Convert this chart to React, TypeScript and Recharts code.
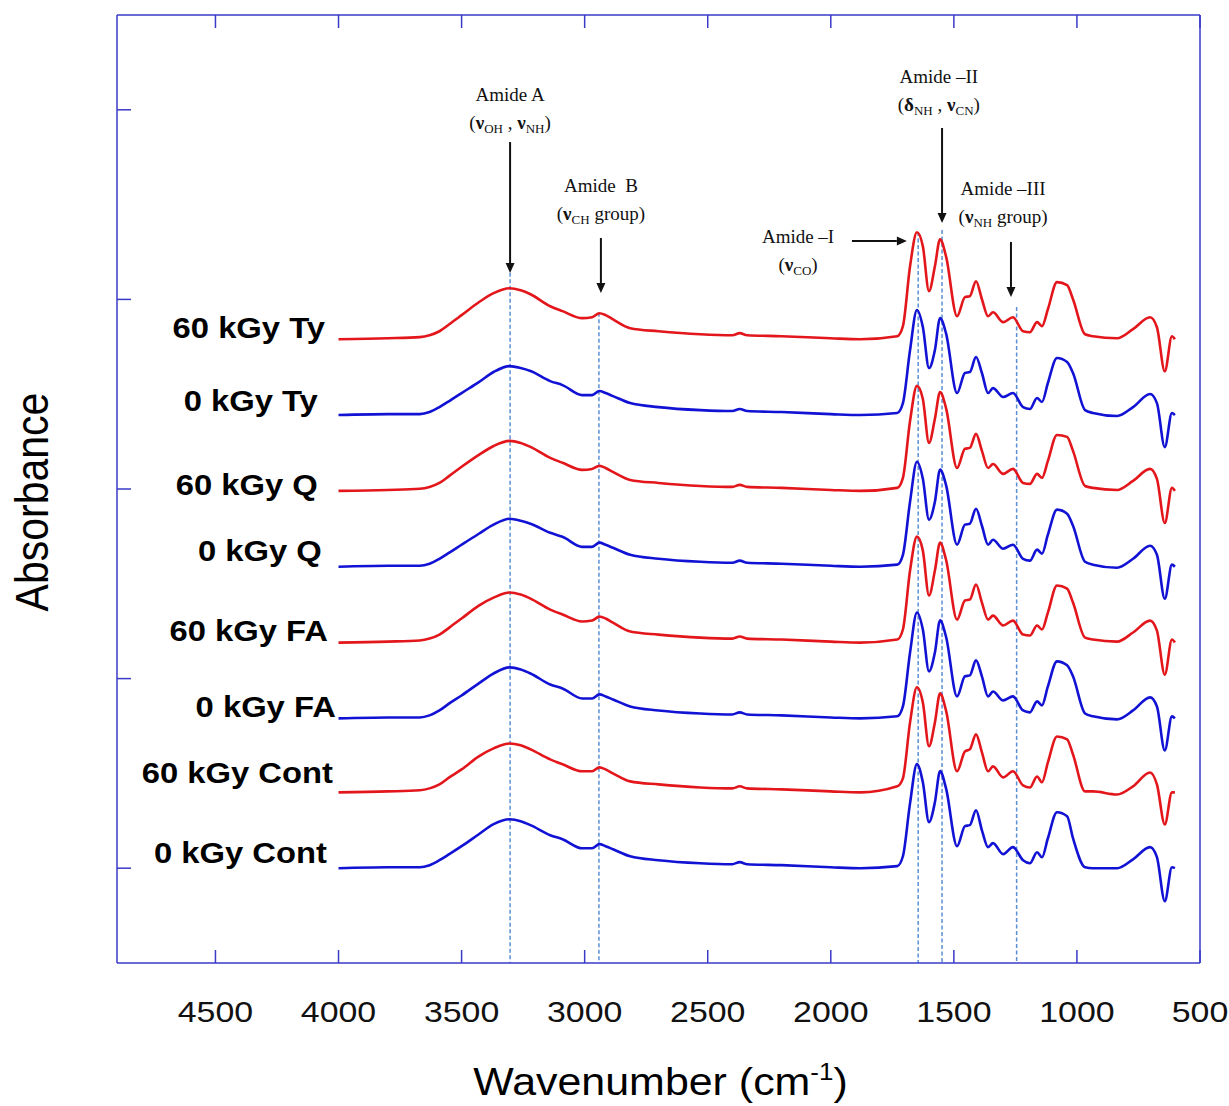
import React from 'react';
import { LineChart, Line, XAxis, YAxis, ReferenceLine, ReferenceDot } from 'recharts';

// Wavenumber grid (cm-1)
const wavenumbers = [4000, 3800, 3670, 3630, 3590, 3550, 3500, 3430, 3370, 3305, 3260, 3220, 3140, 3090, 3010, 2970, 2940, 2915, 2885, 2815, 2700, 2530, 2400, 2370, 2340, 2200, 2000, 1880, 1730, 1707, 1678, 1650, 1626, 1601, 1577, 1556, 1532, 1487, 1455, 1435, 1410, 1386, 1361, 1341, 1300, 1260, 1219, 1191, 1162, 1142, 1118, 1081, 1040, 1016, 967, 935, 837, 772, 703, 675, 643, 614, 602];

// Absorbance above each spectrum's own baseline
const abs60Ty = [0, .005, .011, .021, .042, .079, .127, .195, .243, .269, .258, .237, .174, .148, .111, .116, .137, .127, .105, .058, .042, .026, .021, .032, .021, .016, .005, 0, .016, .069, .385, .564, .490, .253, .385, .527, .438, .121, .222, .227, .306, .211, .121, .142, .090, .116, .042, .037, .090, .069, .158, .301, .285, .211, .026, .016, .005, .053, .116, .063, -.169, .016, 0];
const abs0Ty = [0, .005, .005, .016, .042, .074, .116, .174, .227, .258, .248, .232, .179, .158, .105, .105, .127, .116, .100, .063, .042, .026, .021, .032, .021, .016, .005, 0, .011, .063, .343, .554, .464, .248, .343, .512, .432, .116, .222, .227, .306, .222, .116, .142, .095, .116, .042, .032, .090, .069, .169, .301, .280, .222, .026, .011, -.005, .042, .111, .063, -.169, .011, 0];
const abs60Q = [0, .005, .011, .021, .042, .079, .127, .190, .237, .264, .253, .232, .174, .148, .111, .116, .132, .121, .100, .058, .042, .026, .021, .032, .021, .016, .005, 0, .016, .069, .369, .554, .485, .253, .380, .522, .438, .121, .222, .227, .301, .211, .121, .142, .090, .116, .042, .037, .090, .069, .158, .295, .285, .211, .026, .016, .005, .053, .116, .063, -.169, .016, 0];
const abs0Q = [0, .005, .005, .016, .042, .074, .116, .174, .222, .253, .243, .227, .179, .158, .105, .105, .127, .116, .100, .063, .042, .026, .021, .032, .021, .016, .005, 0, .011, .063, .343, .554, .464, .248, .343, .512, .432, .116, .222, .227, .306, .216, .116, .142, .095, .116, .042, .032, .090, .069, .169, .301, .280, .216, .026, .011, -.005, .042, .111, .063, -.169, .011, 0];
const abs60FA = [0, .005, .011, .021, .042, .079, .127, .195, .237, .264, .253, .232, .174, .148, .111, .116, .137, .127, .105, .058, .042, .026, .021, .032, .021, .016, .005, 0, .016, .069, .380, .559, .485, .248, .380, .527, .438, .121, .222, .227, .306, .211, .121, .142, .090, .116, .042, .037, .090, .069, .158, .301, .285, .211, .026, .016, .005, .053, .116, .063, -.169, .016, 0];
const abs0FA = [0, .005, .005, .016, .042, .079, .121, .185, .237, .269, .258, .237, .179, .158, .105, .105, .127, .116, .100, .063, .042, .026, .021, .032, .021, .016, .005, 0, .011, .063, .348, .559, .469, .248, .348, .517, .432, .116, .222, .227, .306, .222, .116, .142, .095, .116, .042, .032, .090, .069, .169, .301, .280, .222, .026, .011, -.005, .042, .111, .063, -.169, .011, 0];
const abs60Cont = [0, .005, .011, .021, .042, .079, .121, .190, .232, .258, .248, .227, .174, .148, .111, .111, .132, .121, .100, .058, .042, .026, .021, .032, .021, .016, .005, 0, .032, .074, .369, .554, .474, .243, .369, .522, .432, .111, .216, .227, .306, .211, .111, .137, .079, .111, .037, .026, .084, .053, .158, .295, .280, .200, .005, .005, -.011, .032, .105, .042, -.169, 0, 0];
const abs0Cont = [0, .005, .005, .016, .042, .074, .116, .179, .232, .258, .248, .227, .174, .153, .105, .105, .127, .116, .100, .063, .042, .026, .021, .032, .021, .016, .005, 0, .011, .063, .343, .549, .453, .243, .348, .512, .422, .116, .222, .227, .306, .200, .111, .132, .074, .111, .042, .026, .084, .058, .158, .295, .274, .158, .005, 0, 0, .047, .111, .058, -.174, .005, 0];

const seriesNames = ['60 kGy Ty', '0 kGy Ty', '60 kGy Q', '0 kGy Q', '60 kGy FA', '0 kGy FA', '60 kGy Cont', '0 kGy Cont'];
const seriesValues = [abs60Ty, abs0Ty, abs60Q, abs0Q, abs60FA, abs0FA, abs60Cont, abs0Cont];
const seriesOffsets = [3.29, 2.89, 2.49, 2.09, 1.69, 1.29, 0.90, 0.50];
const seriesColors = ['#e2161b', '#1212d4', '#e2161b', '#1212d4', '#e2161b', '#1212d4', '#e2161b', '#1212d4'];
// label anchor: wavenumber where the label ends, absorbance at its centre
const labelEndW = [4055, 4084, 4084, 4068, 4043, 4011, 4023, 4047];
const labelY = [3.354, 2.969, 2.526, 2.173, 1.756, 1.355, 1.007, 0.585];

const xTicks = [4500, 4000, 3500, 3000, 2500, 2000, 1500, 1000, 500];
const yTicks = [0.5, 1.5, 2.5, 3.5, 4.5];

// band markers
const bandLinesW = [3303, 2942, 1645, 1548, 1245];
const bandLinesTop = [3.64, 3.43, 3.855, 3.866, 3.46];

type Part = { t: string; sub?: boolean; bold?: boolean };
const annotations: { x: number; y: number; lines: Part[][] }[] = [
  { x: 3303, y: 4.546, lines: [[{ t: 'Amide A' }], [{ t: '(' }, { t: 'ν', bold: true }, { t: 'OH', sub: true }, { t: ' , ' }, { t: 'ν', bold: true }, { t: 'NH', sub: true }, { t: ')' }]] },
  { x: 2934, y: 4.066, lines: [[{ t: 'Amide  B' }], [{ t: '(' }, { t: 'ν', bold: true }, { t: 'CH', sub: true }, { t: ' group)' }]] },
  { x: 2133, y: 3.797, lines: [[{ t: 'Amide –I' }], [{ t: '(' }, { t: 'ν', bold: true }, { t: 'CO', sub: true }, { t: ')' }]] },
  { x: 1561, y: 4.641, lines: [[{ t: 'Amide –II' }], [{ t: '(' }, { t: 'δ', bold: true }, { t: 'NH', sub: true }, { t: ' , ' }, { t: 'ν', bold: true }, { t: 'CN', sub: true }, { t: ')' }]] },
  { x: 1300, y: 4.051, lines: [[{ t: 'Amide –III' }], [{ t: '(' }, { t: 'ν', bold: true }, { t: 'NH', sub: true }, { t: ' group)' }]] },
];

const arrows = [
  [{ x: 3303, y: 4.33 }, { x: 3303, y: 3.639 }],
  [{ x: 2934, y: 3.824 }, { x: 2934, y: 3.534 }],
  [{ x: 1548, y: 4.404 }, { x: 1548, y: 3.903 }],
  [{ x: 1268, y: 3.803 }, { x: 1268, y: 3.513 }],
  [{ x: 1914, y: 3.808 }, { x: 1691, y: 3.808 }],
];

const FRAME = '#3a3ac8';
const SANS = "'Liberation Sans', Arial, sans-serif";
const SERIF = "'Liberation Serif', 'Times New Roman', serif";
const STRETCH = 1.13;

const data = wavenumbers.map((w, i) => {
  const row: Record<string, number> = { w };
  seriesValues.forEach((vals, k) => {
    row['s' + k] = seriesOffsets[k] + vals[i];
  });
  return row;
});

const BottomTick = (props: any) => {
  const { x, y, payload } = props;
  return (
    <g>
      <line x1={x} y1={y} x2={x} y2={y - 13} stroke={FRAME} strokeWidth={1.5} />
      <text x={0} y={0} transform={`translate(${x},${y + 59}) scale(${STRETCH},1)`} textAnchor="middle" fontFamily={SANS} fontSize={30} fill="#111">
        {payload.value}
      </text>
    </g>
  );
};
const TopTick = (props: any) => {
  const { x, y } = props;
  return <line x1={x} y1={y} x2={x} y2={y + 13} stroke={FRAME} strokeWidth={1.5} />;
};
const LeftTick = (props: any) => {
  const { x, y } = props;
  return <line x1={x} y1={y} x2={x + 14} y2={y} stroke={FRAME} strokeWidth={1.5} />;
};
const RightTick = (props: any) => {
  const { x, y } = props;
  return <line x1={x} y1={y} x2={x - 14} y2={y} stroke={FRAME} strokeWidth={1.5} />;
};

const renderParts = (parts: Part[]) => {
  let shifted = false;
  return parts.map((p, i) => {
    let dy = 0;
    if (p.sub && !shifted) { dy = 4; shifted = true; }
    else if (!p.sub && shifted) { dy = -4; shifted = false; }
    return (
      <tspan key={i} dy={dy} fontSize={p.sub ? 13 : 19} fontWeight={p.bold ? 'bold' : 'normal'}>
        {p.t}
      </tspan>
    );
  });
};

const makeAnnotationLabel = (lines: Part[][]) => (props: any) => {
  const vb = props.viewBox || {};
  const cx = vb.x + (vb.width || 0) / 2;
  const cy = vb.y + (vb.height || 0) / 2;
  return (
    <g>
      {lines.map((ln, i) => (
        <text key={i} x={cx} y={cy + i * 28} textAnchor="middle" fontFamily={SERIF} fontSize={19} fill="#111" xmlSpace="preserve" style={{ whiteSpace: 'pre' }}>
          {renderParts(ln)}
        </text>
      ))}
    </g>
  );
};

const makeSeriesLabel = (text: string) => (props: any) => {
  const vb = props.viewBox || {};
  const ex = vb.x + (vb.width || 0) / 2;
  const cy = vb.y + (vb.height || 0) / 2;
  return (
    <text x={0} y={0} transform={`translate(${ex},${cy + 10.5}) scale(${STRETCH},1)`} textAnchor="end" fontFamily={SANS} fontWeight="bold" fontSize={29} fill="#000">
      {text}
    </text>
  );
};

const ArrowShape = (props: any) => {
  const { x1, y1, x2, y2 } = props;
  const dx = x2 - x1;
  const dy = y2 - y1;
  const len = Math.sqrt(dx * dx + dy * dy) || 1;
  const ux = dx / len;
  const uy = dy / len;
  const hl = 10;
  const hw = 4.5;
  const bx = x2 - ux * hl;
  const by = y2 - uy * hl;
  const pts = `${x2},${y2} ${bx - uy * hw},${by + ux * hw} ${bx + uy * hw},${by - ux * hw}`;
  return (
    <g>
      <line x1={x1} y1={y1} x2={bx} y2={by} stroke="#111" strokeWidth={2} />
      <polygon points={pts} fill="#111" />
    </g>
  );
};

const XLabel = (props: any) => {
  const vb = props.viewBox || {};
  const cx = vb.x + vb.width / 2 + 2;
  return (
    <text x={0} y={0} transform={`translate(${cx},${vb.y + 132}) scale(${STRETCH},1)`} textAnchor="middle" fontFamily={SANS} fontSize={38} fill="#000">
      <tspan>Wavenumber (cm</tspan>
      <tspan dy={-15} fontSize={23}>-1</tspan>
      <tspan dy={15}>)</tspan>
    </text>
  );
};

const YLabel = (props: any) => {
  const vb = props.viewBox || {};
  return (
    <text x={0} y={0} transform={`translate(${48},${vb.y + 487}) scale(${STRETCH},1) rotate(-90)`} textAnchor="middle" fontFamily={SANS} fontSize={41} fill="#000">
      Absorbance
    </text>
  );
};

export default function App() {
  return (
    <div style={{ position: 'absolute', left: 0, top: 0, width: 1229, height: 1106, background: '#fff' }}>
      <LineChart width={1229} height={1106} data={data} margin={{ top: 14, right: 28, bottom: 83, left: 116 }}>
        <XAxis
          xAxisId="bottom"
          dataKey="w"
          type="number"
          domain={[500, 4900]}
          reversed
          ticks={xTicks}
          orientation="bottom"
          height={60}
          tickSize={0}
          tickMargin={0}
          axisLine={{ stroke: FRAME, strokeWidth: 1.5 }}
          tickLine={false}
          tick={<BottomTick />}
          interval={0}
          label={<XLabel />}
        />
        <XAxis
          xAxisId="top"
          dataKey="w"
          type="number"
          domain={[500, 4900]}
          reversed
          ticks={xTicks}
          orientation="top"
          height={1}
          tickSize={0}
          tickMargin={0}
          axisLine={{ stroke: FRAME, strokeWidth: 1.5 }}
          tickLine={false}
          tick={<TopTick />}
          interval={0}
        />
        <YAxis
          yAxisId="left"
          type="number"
          domain={[0, 5]}
          ticks={yTicks}
          orientation="left"
          width={1}
          tickSize={0}
          tickMargin={0}
          axisLine={{ stroke: FRAME, strokeWidth: 1.5 }}
          tickLine={false}
          tick={<LeftTick />}
          interval={0}
          label={<YLabel />}
        />
        <YAxis
          yAxisId="right"
          type="number"
          domain={[0, 5]}
          ticks={yTicks}
          orientation="right"
          width={1}
          tickSize={0}
          tickMargin={0}
          axisLine={{ stroke: FRAME, strokeWidth: 1.5 }}
          tickLine={false}
          tick={<RightTick />}
          interval={0}
        />
        {bandLinesW.map((w, i) => (
          <ReferenceLine
            key={'band' + i}
            xAxisId="bottom"
            yAxisId="left"
            segment={[{ x: w, y: bandLinesTop[i] }, { x: w, y: 0 }]}
            stroke="#5b8fd3"
            strokeWidth={1.5}
            strokeDasharray="4 2.5"
            ifOverflow="visible"
          />
        ))}
        {seriesNames.map((name, k) => (
          <Line
            key={name}
            xAxisId="bottom"
            yAxisId="left"
            dataKey={'s' + k}
            name={name}
            type="monotone"
            stroke={seriesColors[k]}
            strokeWidth={2.6}
            dot={false}
            activeDot={false}
            isAnimationActive={false}
          />
        ))}
        {arrows.map((seg, i) => (
          <ReferenceLine
            key={'arrow' + i}
            xAxisId="bottom"
            yAxisId="left"
            segment={seg}
            shape={(p: any) => <ArrowShape {...p} />}
            ifOverflow="visible"
          />
        ))}
        {annotations.map((a, i) => (
          <ReferenceDot
            key={'ann' + i}
            xAxisId="bottom"
            yAxisId="left"
            x={a.x}
            y={a.y}
            r={0.5}
            fill="none"
            stroke="none"
            ifOverflow="visible"
            label={makeAnnotationLabel(a.lines)}
          />
        ))}
        {seriesNames.map((name, k) => (
          <ReferenceDot
            key={'lab' + k}
            xAxisId="bottom"
            yAxisId="left"
            x={labelEndW[k]}
            y={labelY[k]}
            r={0.5}
            fill="none"
            stroke="none"
            ifOverflow="visible"
            label={makeSeriesLabel(name)}
          />
        ))}
      </LineChart>
    </div>
  );
}
